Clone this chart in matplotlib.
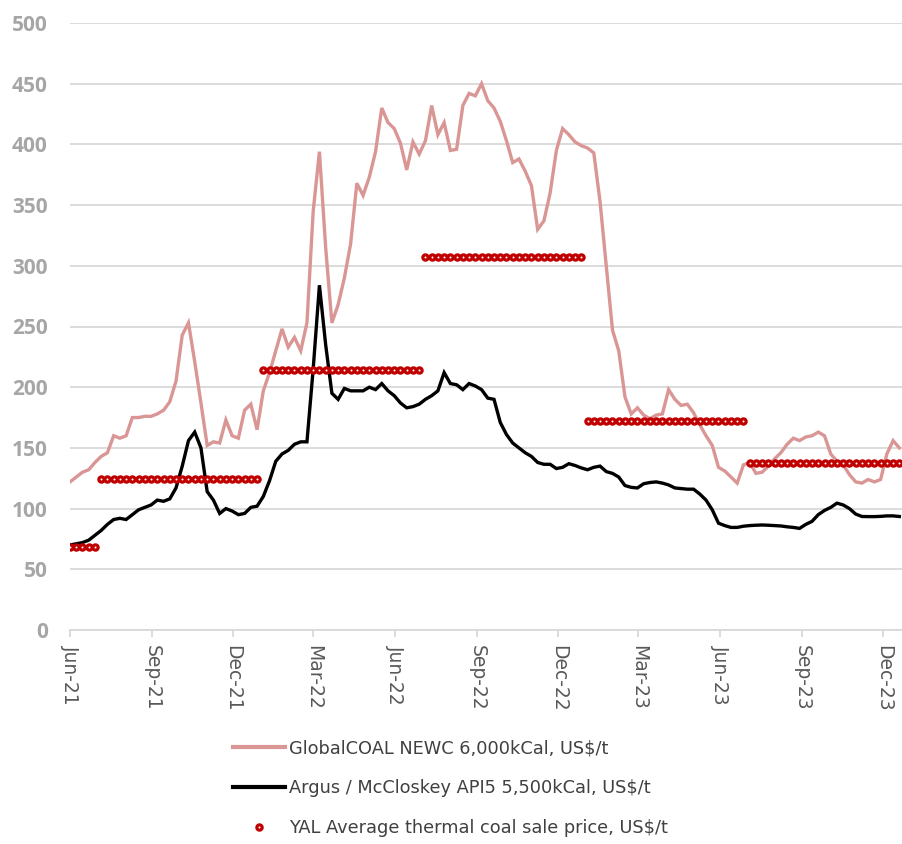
import matplotlib
matplotlib.use("Agg")
import matplotlib.pyplot as plt
from matplotlib.lines import Line2D
import pandas as pd
import numpy as np

# ---------------- data ----------------
start_date = "2021-06-01"

newc = [122, 126, 130, 132, 138, 143, 146, 160, 158, 160,
        175, 175, 176, 176, 178, 181, 188, 205, 243, 253,
        221, 187, 152, 155, 154, 173, 160, 158, 181, 186,
        165, 197, 212, 230, 248, 233, 241, 230, 253, 345,
        394, 315, 253, 268, 290, 318, 368, 358, 373, 394,
        430, 418, 413, 401, 379, 402, 392, 403, 432, 408,
        418, 395, 396, 432, 442, 440, 450, 436, 430, 419,
        403, 385, 388, 378, 366, 330, 337, 360, 395, 413,
        408, 402, 399, 397, 393, 353, 300, 247, 230, 192,
        178, 183, 177, 174, 177, 178, 198, 190, 185, 186,
        179, 169, 160, 152, 134, 131, 126, 121, 136, 138,
        129, 130, 135, 141, 146, 153, 158, 156, 159, 160,
        163, 160, 145, 139, 136, 128, 122, 121, 124, 122,
        124, 145, 156, 150]

api5 = [70, 71, 72, 74, 78, 82, 87, 91, 92, 91,
        95, 99, 101, 103, 107, 106, 108, 117, 135, 156,
        163, 150, 114, 107, 96, 100, 98, 95, 96, 101,
        102, 110, 123, 139, 145, 148, 153, 155, 155, 215,
        284, 235, 195, 190, 199, 197, 197, 197, 200, 198,
        203, 197, 193, 187, 183, 184, 186, 190, 193, 197,
        212, 203, 202, 198, 203, 201, 198, 191, 190, 171,
        161, 154, 150, 146, 143, 138, 136.5, 136.5, 133, 134,
        137, 135.5, 133.5, 132, 134, 135, 130.5, 129, 126, 119,
        117.5, 117, 120.5, 121.5, 122, 121, 119.5, 117, 116.5, 116,
        116, 112, 107, 99, 88, 86, 84.5, 84.5, 85.5, 86,
        86.3, 86.5, 86.3, 86, 85.7, 85, 84.5, 83.7, 87, 89.5,
        95, 98.5, 101, 104.5, 103, 100, 95.5, 93.5, 93.4, 93.4,
        93.6, 94, 94, 93.5]

yal_half_starts = ["2021-01-01", "2021-07-01", "2022-01-01",
                   "2022-07-01", "2023-01-01", "2023-07-01"]
yal_half_values = [68, 124.5, 214.5, 307.5, 172.5, 137.5]

tick_labels = ["Jun-21", "Sep-21", "Dec-21", "Mar-22", "Jun-22", "Sep-22",
               "Dec-22", "Mar-23", "Jun-23", "Sep-23", "Dec-23"]

label_newc = "GlobalCOAL NEWC 6,000kCal, US$/t"
label_api5 = "Argus / McCloskey API5 5,500kCal, US$/t"
label_yal = "YAL Average thermal coal sale price, US$/t"

# ---------------- build series ----------------
dates = pd.date_range(start_date, periods=len(newc), freq="7D")
half_starts = pd.to_datetime(yal_half_starts)
idx = np.searchsorted(half_starts.values, dates.values, side="right") - 1
yal = np.array(yal_half_values)[idx]

# ---------------- figure ----------------
fig = plt.figure(figsize=(9.02, 8.44), dpi=100)
ax = fig.add_axes([70 / 902, 1 - 630 / 844, 1 - 70 / 902, (630 - 23) / 844])

pink = "#D99694"
red = "#C00000"
grid_c = "#D9D9D9"

ax.plot(dates, newc, color=pink, lw=2.4, solid_joinstyle="miter", zorder=3)
ax.plot(dates, api5, color="black", lw=2.4, solid_joinstyle="miter", zorder=3)
ax.plot(dates, yal, linestyle="none", marker="o", markersize=3.8,
        markerfacecolor="white", markeredgecolor=red, markeredgewidth=2.3, zorder=4)

ax.set_ylim(0, 500)
ax.set_yticks(np.arange(0, 501, 50))
ax.yaxis.grid(True, color=grid_c, lw=1.3)
ax.set_axisbelow(True)

x0 = pd.Timestamp(start_date)
ax.set_xlim(x0, x0 + pd.Timedelta(days=934))
tick_dates = pd.date_range(start_date, periods=len(tick_labels), freq="3MS")
ax.set_xticks(tick_dates)
ax.set_xticklabels(tick_labels, rotation=-90, fontsize=13.5, color="#595959",
                   family="DejaVu Sans")

for s in ["left", "right", "top"]:
    ax.spines[s].set_visible(False)
ax.spines["bottom"].set_color(grid_c)
ax.spines["bottom"].set_linewidth(1.3)

ax.tick_params(axis="x", length=5, width=1.3, color=grid_c, pad=6)
ax.tick_params(axis="y", length=0, pad=16, labelsize=15, labelcolor="#A6A6A6")
for t in ax.get_yticklabels():
    t.set_fontweight("bold")
    t.set_family("Open Sans")

handles = [
    Line2D([], [], color=pink, lw=3),
    Line2D([], [], color="black", lw=3),
    Line2D([], [], linestyle="none", marker="o", markersize=3.8,
           markerfacecolor="white", markeredgecolor=red, markeredgewidth=2.3),
]
leg = fig.legend(handles, [label_newc, label_api5, label_yal],
                 loc="upper left", bbox_to_anchor=(233 / 902, 1 - 739 / 844),
                 frameon=False, fontsize=12.8, handlelength=2.9,
                 handletextpad=0.25, labelspacing=1.25, borderpad=0,
                 borderaxespad=0)
for t in leg.get_texts():
    t.set_color("#404040")

fig.savefig("out.png", dpi=100)
